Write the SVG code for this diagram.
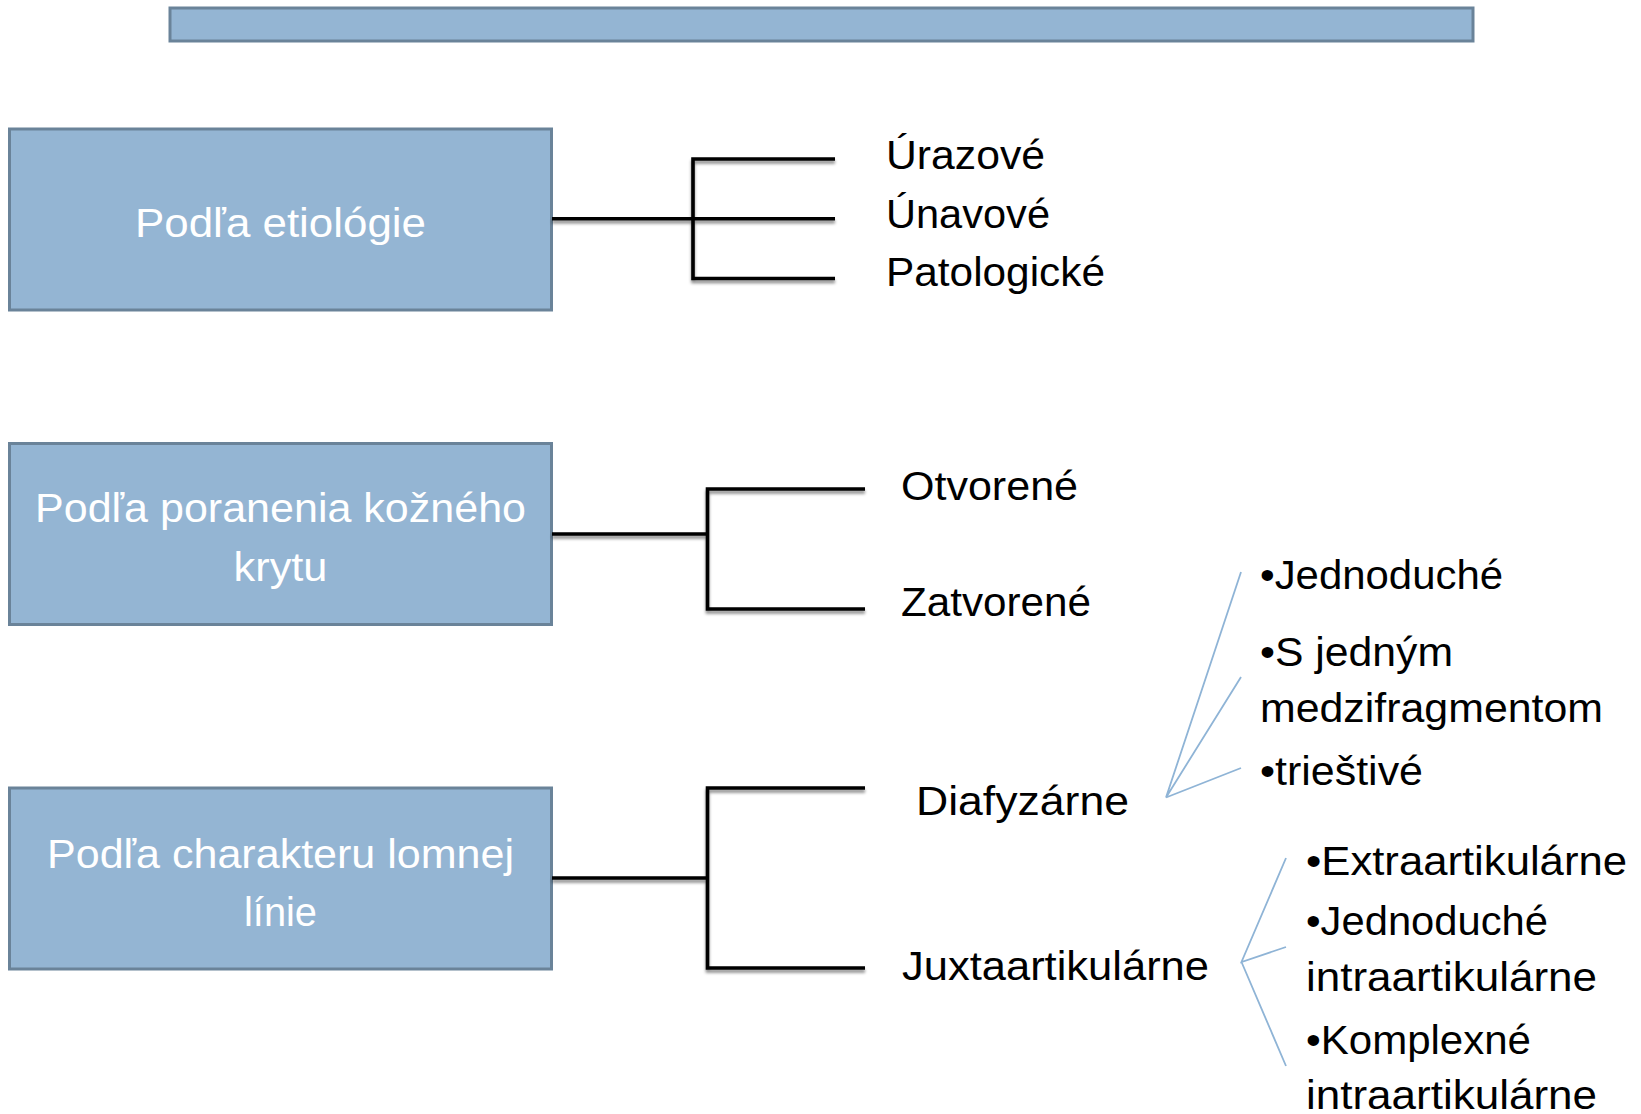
<svg xmlns="http://www.w3.org/2000/svg" width="1641" height="1114" viewBox="0 0 1641 1114">
<defs>
<filter id="sh" x="-10%" y="-50%" width="120%" height="200%">
<feDropShadow dx="0" dy="3" stdDeviation="1.8" flood-color="#000" flood-opacity="0.45"/>
</filter>
<style>
.box{fill:#94b5d3;stroke:#6a8399;stroke-width:3}
.bt{font-family:"Liberation Sans",Arial,sans-serif;font-size:40px;fill:#ffffff;text-anchor:middle}
.lb{font-family:"Liberation Sans",Arial,sans-serif;font-size:40px;fill:#000000}
.conn{fill:none;stroke:#000;stroke-width:3.6;filter:url(#sh)}
.blue{fill:none;stroke:#8fb4d6;stroke-width:1.8}
</style>
</defs>
<rect width="1641" height="1114" fill="#ffffff"/>
<g id="title-bar"><rect class="box" x="170" y="8" width="1303" height="33"/></g>

<g id="node-etiologia">
<rect class="box" x="9.5" y="129" width="542" height="181"/>
<text class="bt" x="280.5" y="237" textLength="291" lengthAdjust="spacingAndGlyphs">Podľa etiológie</text>
</g>
<g id="node-kozny-kryt">
<rect class="box" x="9.5" y="443.5" width="542" height="181"/>
<text class="bt" x="280.5" y="522" textLength="491" lengthAdjust="spacingAndGlyphs">Podľa poranenia kožného</text>
<text class="bt" x="280.5" y="581" textLength="94" lengthAdjust="spacingAndGlyphs">krytu</text>
</g>
<g id="node-lomna-linia">
<rect class="box" x="9.5" y="788" width="542" height="181"/>
<text class="bt" x="280.5" y="868" textLength="467" lengthAdjust="spacingAndGlyphs">Podľa charakteru lomnej</text>
<text class="bt" x="280.5" y="926" textLength="73" lengthAdjust="spacingAndGlyphs">línie</text>
</g>

<g id="connectors">
<path class="conn" d="M552 218.7 H835 M835 159 H693 V278.5 H835"/>
<path class="conn" d="M552 534 H707.5 M865 489 H707.5 V609 H865"/>
<path class="conn" d="M552 878 H707.5 M865 788 H707.5 V968 H865"/>
<path class="blue" d="M1241 572 L1166 797.5 L1241 677 M1166 797.5 L1241 768"/>
<path class="blue" d="M1286 858 L1241.5 962 L1286 947 M1241.5 962 L1286 1066"/>
</g>

<g id="leaf-urazove"><text class="lb" x="886" y="169" textLength="159" lengthAdjust="spacingAndGlyphs">Úrazové</text></g>
<g id="leaf-unavove"><text class="lb" x="886" y="228" textLength="164" lengthAdjust="spacingAndGlyphs">Únavové</text></g>
<g id="leaf-patologicke"><text class="lb" x="886" y="286" textLength="219" lengthAdjust="spacingAndGlyphs">Patologické</text></g>
<g id="leaf-otvorene"><text class="lb" x="901" y="500" textLength="177" lengthAdjust="spacingAndGlyphs">Otvorené</text></g>
<g id="leaf-zatvorene"><text class="lb" x="901" y="616" textLength="190" lengthAdjust="spacingAndGlyphs">Zatvorené</text></g>
<g id="leaf-diafyzarne"><text class="lb" x="916" y="815" textLength="213" lengthAdjust="spacingAndGlyphs">Diafyzárne</text></g>
<g id="leaf-juxtaartikularne"><text class="lb" x="902" y="980" textLength="307" lengthAdjust="spacingAndGlyphs">Juxtaartikulárne</text></g>

<g id="list-diafyzarne">
<text class="lb" x="1260" y="589" textLength="243" lengthAdjust="spacingAndGlyphs">•Jednoduché</text>
<text class="lb" x="1260" y="666" textLength="193" lengthAdjust="spacingAndGlyphs">•S jedným</text>
<text class="lb" x="1260" y="722" textLength="343" lengthAdjust="spacingAndGlyphs">medzifragmentom</text>
<text class="lb" x="1260" y="785" textLength="163" lengthAdjust="spacingAndGlyphs">•trieštivé</text>
</g>
<g id="list-juxtaartikularne">
<text class="lb" x="1306" y="875" textLength="321" lengthAdjust="spacingAndGlyphs">•Extraartikulárne</text>
<text class="lb" x="1306" y="934.5" textLength="242" lengthAdjust="spacingAndGlyphs">•Jednoduché</text>
<text class="lb" x="1306" y="991" textLength="291" lengthAdjust="spacingAndGlyphs">intraartikulárne</text>
<text class="lb" x="1306" y="1054" textLength="225" lengthAdjust="spacingAndGlyphs">•Komplexné</text>
<text class="lb" x="1306" y="1109" textLength="291" lengthAdjust="spacingAndGlyphs">intraartikulárne</text>
</g>
</svg>
